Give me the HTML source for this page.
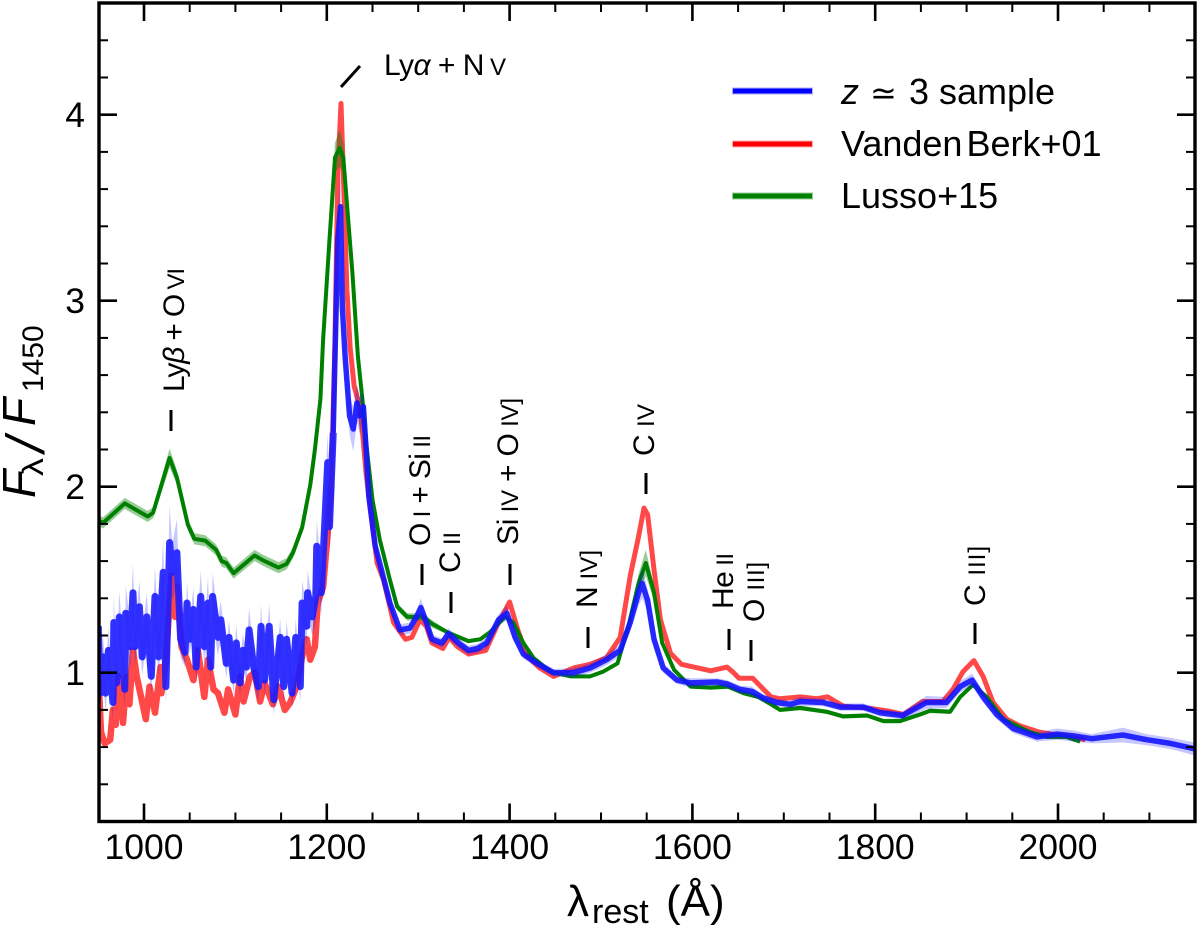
<!DOCTYPE html>
<html lang="en">
<head>
<meta charset="utf-8">
<title>Quasar composite spectra</title>
<style>
html,body{margin:0;padding:0;background:#fff;}
svg{display:block;}
text{font-family:"Liberation Sans","DejaVu Sans",sans-serif;fill:#000;}
.s{font-size:24px;}
.lab{font-size:30px;}
.gr{font-style:italic;}
</style>
</head>
<body>
<svg id="chart" xmlns="http://www.w3.org/2000/svg" width="1200" height="939" viewBox="0 0 1200 939">
<defs><clipPath id="plot-clip"><rect x="98" y="3" width="1097" height="818.5"/></clipPath></defs>
<g id="marks" clip-path="url(#plot-clip)"></g>
<g id="axes"></g>

<g stroke="#000" stroke-width="3" fill="none">
<line x1="341" y1="87" x2="360" y2="66"/>
<line x1="171" y1="410" x2="171" y2="431"/>
<line x1="422" y1="564" x2="422" y2="585"/>
<line x1="451" y1="592" x2="451" y2="613"/>
<line x1="510" y1="564" x2="510" y2="585"/>
<line x1="588" y1="627" x2="588" y2="648"/>
<line x1="646" y1="473" x2="646" y2="494"/>
<line x1="729" y1="629" x2="729" y2="650"/>
<line x1="751" y1="640" x2="751" y2="661"/>
<line x1="975" y1="623" x2="975" y2="644"/>
</g>

<g>
<text class="lab" x="384" y="75" textLength="122">Ly<tspan class="gr">α</tspan> + N<tspan class="s"> V</tspan></text>
<text class="lab" transform="translate(184,392) rotate(-90)" textLength="124">Ly<tspan class="gr">β</tspan> + O<tspan class="s"> VI</tspan></text>
<text class="lab" transform="translate(430,546) rotate(-90)" textLength="111">O<tspan class="s"> I</tspan> + Si<tspan class="s"> II</tspan></text>
<text class="lab" transform="translate(460,573) rotate(-90)" textLength="41">C<tspan class="s"> II</tspan></text>
<text class="lab" transform="translate(518,545) rotate(-90)" textLength="147">Si<tspan class="s"> IV</tspan> + O<tspan class="s"> IV]</tspan></text>
<text class="lab" transform="translate(597,608) rotate(-90)" textLength="58">N<tspan class="s"> IV]</tspan></text>
<text class="lab" transform="translate(654,456) rotate(-90)" textLength="52">C<tspan class="s"> IV</tspan></text>
<text class="lab" transform="translate(733,609) rotate(-90)" textLength="56">He<tspan class="s"> II</tspan></text>
<text class="lab" transform="translate(764,622) rotate(-90)" textLength="60">O<tspan class="s"> III]</tspan></text>
<text class="lab" transform="translate(985,606) rotate(-90)" textLength="60">C<tspan class="s"> III]</tspan></text>
</g>

<g>
<line x1="732" y1="91" x2="813" y2="91" stroke="#0000ff" stroke-opacity=".3" stroke-width="7"/>
<line x1="733" y1="91" x2="812" y2="91" stroke="#0000ff" stroke-width="5"/>
<g>
<text x="841" y="104" font-size="36" font-style="italic">z</text>
<text x="870" y="104" font-size="32" style="font-family:'DejaVu Sans',sans-serif">≃</text>
<text x="909" y="104" font-size="36">3 sample</text>
</g>
<line x1="732" y1="144" x2="813" y2="144" stroke="#ff0000" stroke-opacity=".3" stroke-width="7"/>
<line x1="733" y1="144" x2="812" y2="144" stroke="#ff0000" stroke-width="5"/>
<text x="841" y="156" font-size="36">Vanden<tspan dx="4">Berk+01</tspan></text>
<line x1="732" y1="196" x2="813" y2="196" stroke="#008000" stroke-opacity=".4" stroke-width="7"/>
<line x1="733" y1="196" x2="812" y2="196" stroke="#008000" stroke-width="5"/>
<text x="841" y="208" font-size="36">Lusso+15</text>
</g>

<g>
<text x="567" y="916" font-size="44">λ</text>
<text x="592" y="923" font-size="34">rest</text>
<text x="666" y="916" font-size="44">(Å)</text>
</g>
<g>
<text transform="translate(35,498) rotate(-90)" font-size="46" font-style="italic">F</text>
<text transform="translate(43,476) rotate(-90) scale(1.2,1)" font-size="30">λ</text>
<text transform="translate(44,452) rotate(-90)" font-size="54" font-style="italic">/</text>
<text transform="translate(35,426) rotate(-90)" font-size="46" font-style="italic">F</text>
<text transform="translate(43,392) rotate(-90)" font-size="30">1450</text>
</g>
</svg>

<script>
const blueWave = [
950,952,955,958,961,966,967,970,973,979,
980,985,988,990,995,998,1003,1008,1012,1016,
1021,1024,1028,1031,1036,1040,1045,1047,1050,1054,
1057,1062,1066,1070,1073,1075,1081,1084,1090,1093,
1098,1101,1105,1108,1112,1115,1120,1125,1128,1132,
1137,1142,1149,1153,1156,1162,1166,1171,1173,1178,
1179,1184,1188,1189,1194,1196,1201,1203,1207,
1209,1212,1215,1217,1220,1225,1229,1233,1236,1240,1243,1246,1253,1260,1269,
1280,1291,1298,1303,1309,1315,1326,1333,1344,1355,
1365,1375,1388,1397,1406,1415,1430,1448,1470,1488,
1506,1521,1532,1541,1545,1551,1558,1568,1583,1598,
1627,1638,1652,1665,1677,1692,1707,1718,1743,1762,
1787,1805,1830,1856,1878,1893,1906,1918,1933,1951,
1977,1999,2017,2037,2071,2097,2123,2150];
const blueFlux = [
1.25,.89,1.085,.89,1.12,.84,1.27,.945,1.30,.91,
1.32,1.14,1.43,1.14,1.355,1.085,1.30,.98,1.41,1.085,
1.54,.925,1.70,1.54,1.645,1.18,1.11,1.375,1.18,1.34,
1.03,1.41,1.14,1.375,1.03,1.41,1.19,1.285,1.05,1.19,
.96,1.16,.945,1.12,1.03,1.23,1.03,.925,1.25,.96,
1.25,.855,1.19,.925,1.18,.89,1.19,.925,1.375,1.25,
1.43,1.30,1.41,1.68,1.43,1.62,2.13,1.785,2.29,
2.70,3.33,3.505,2.97,2.70,2.38,2.31,2.45,2.38,2.43,2.2,1.95,1.68,1.55,1.375,
1.23,1.24,1.30,1.35,1.27,1.18,1.16,1.21,1.16,1.12,
1.13,1.16,1.285,1.32,1.19,1.10,1.05,1.00,1.00,1.025,
1.07,1.12,1.27,1.43,1.48,1.39,1.18,1.025,.96,.945,
.95,.94,.91,.90,.865,.84,.83,.845,.84,.815,
.815,.785,.77,.84,.84,.925,.96,.87,.775,.70,
.655,.67,.66,.645,.665,.64,.62,.59];
const blueErr = [
.1,.09,.12,.1,.12,.1,.14,.1,.14,.1,
.15,.12,.16,.1,.14,.1,.13,.1,.16,.12,
.18,.1,.2,.15,.18,.1,.08,.12,.08,.12,
.08,.14,.1,.14,.08,.13,.1,.1,.08,.09,
.08,.1,.07,.09,.08,.12,.08,.08,.12,.08,
.12,.08,.1,.08,.1,.08,.1,.08,.12,.1,
.12,.1,.14,.14,.12,.14,.16,.14,.16,
.14,.16,.16,.14,.12,.1,.12,.1,.1,.08,.06,.05,.04,.04,.03,
.03,.03,.03,.05,.03,.025,.025,.03,.025,.025,
.025,.03,.03,.04,.03,.025,.02,.02,.025,.025,
.03,.03,.05,.07,.08,.06,.04,.025,.02,.025,
.02,.02,.02,.025,.02,.02,.02,.025,.02,.02,
.02,.02,.02,.035,.03,.03,.035,.03,.025,.025,
.025,.03,.03,.025,.04,.03,.03,.035];

const redWave = [
950,953,957,963,966,969,972,977,981,984,
988,992,996,1002,1006,1012,1018,1019,1024,1030,
1034,1036,1041,1047,1054,1059,1066,1070,1076,1081,
1088,1092,1100,1105,1109,1116,1121,1127,1132,1141,
1147,1154,1160,1167,1174,1178,1182,1187,1190,1196,
1201,1205,1209,1212,1215.5,1218,1222,1225.5,1230,1236,
1239,1243,1255,1262,1269,1273,1286,1293,1302,1309,
1315,1327,1334,1343,1355,1374,1386,1400,1409,1419,
1433,1448,1470,1488,1506,1521,1532,1541,1547,1551,
1558,1565,1576,1588,1620,1638,1644,1651,1666,1686,
1696,1718,1736,1748,1765,1791,1813,1831,1852,1874,
1885,1896,1908,1918,1929,1944,1958,1980,2005,2030];
const redFlux = [
1.0,.68,.62,.64,.80,.72,.98,.73,.98,.83,
1.12,.98,.89,.75,.925,.785,1.03,.89,1.07,1.52,
1.30,1.46,1.14,1.07,.96,1.12,.87,1.07,.91,.89,
.785,.91,.775,.98,.845,.98,1.00,.845,.945,.83,
.925,.80,.84,.925,1.11,1.18,1.07,1.14,1.375,1.46,
1.75,2.02,2.79,3.69,4.06,3.69,3.06,2.75,2.54,2.43,
2.3,2.07,1.59,1.5,1.355,1.27,1.18,1.19,1.285,1.25,
1.16,1.13,1.19,1.14,1.10,1.12,1.25,1.38,1.23,1.09,
1.025,.98,1.025,1.045,1.08,1.19,1.52,1.73,1.885,1.85,
1.555,1.285,1.105,1.045,1.01,1.03,1.005,.97,.97,.87,
.86,.87,.86,.87,.82,.81,.795,.775,.845,.845,
.91,1.005,1.065,.98,.84,.75,.715,.68,.66,.64];

const greenWave = [
950,955,979,1004,1010,1028,1036,1048,1055,1067,
1079,1085,1090,1098,1121,1130,1147,1156,1163,1173,
1182,1187,1193,1196,1203,1209,1214,1218,1228,1234,
1239,1243,1250,1258,1269,1277,1288,1295,1305,1316,
1333,1355,1368,1379,1395,1404,1415,1426,1445,1467,
1488,1502,1518,1530,1541,1549,1558,1567,1580,1598,
1620,1639,1656,1672,1686,1696,1718,1747,1765,1791,
1809,1827,1849,1860,1882,1893,1907,1922,1940,1969,
1987,2009,2024];
const greenFlux = [
1.82,1.805,1.91,1.84,1.86,2.155,2.05,1.795,1.72,1.71,
1.66,1.60,1.59,1.535,1.63,1.605,1.565,1.585,1.645,1.78,
2.01,2.2,2.47,2.79,3.33,3.77,3.82,3.77,3.15,2.70,
2.47,2.24,1.93,1.715,1.5,1.355,1.30,1.30,1.30,1.26,
1.215,1.17,1.18,1.22,1.30,1.27,1.16,1.08,1.005,.98,
.98,1.005,1.05,1.25,1.48,1.59,1.43,1.16,1.015,.925,
.92,.925,.89,.87,.83,.80,.81,.79,.765,.77,
.74,.74,.775,.795,.79,.87,.935,.87,.75,.68,
.655,.655,.63];
const greenErr = [
.03,.03,.03,.03,.03,.05,.04,.03,.03,.03,
.03,.03,.03,.03,.03,.03,.03,.03,.03,.03,
.03,.03,.03,.04,.06,.08,.1,.08,.05,.03,
.02,.02,.02,.02,.02,.02,.02,.02,.02,.02,
.01,.01,.01,.01,.01,.01,.01,.01,.01,.01,
.01,.01,.01,.02,.05,.07,.04,.02,.01,.01,
.012,.012,.012,.012,.012,.012,.012,.012,.012,.012,
.012,.012,.012,.012,.012,.012,.012,.012,.012,.012,
.012,.012,.012];

const xMajorTicks = [1000,1200,1400,1600,1800,2000];
const xMinorTicks = [1050,1100,1150,1250,1300,1350,1450,1500,1550,1650,1700,1750,1850,1900,1950,2050,2100];
const yMajorTicks = [1,2,3,4];
const yMinorTicks = [.4,.6,.8,1.2,1.4,1.6,1.8,2.2,2.4,2.6,2.8,3.2,3.4,3.6,3.8,4.2,4.4];

const NS = 'http://www.w3.org/2000/svg';
function xScale(w){ return 144 + (w - 1000) * 0.914; }
function yScale(v){ return 821.5 - (v - 0.2) * 186; }
function pts(wave, flux, lo, hi){
  const out = [];
  wave.forEach(function(w, i){
    if (w >= lo && w <= hi) out.push(xScale(w).toFixed(1) + ',' + yScale(flux[i]).toFixed(1));
  });
  return out.join(' ');
}
function bandPts(wave, flux, err){
  const up = wave.map(function(w, i){ return xScale(w).toFixed(1) + ',' + yScale(flux[i] + err[i]).toFixed(1); });
  const lo = wave.map(function(w, i){ return xScale(w).toFixed(1) + ',' + yScale(flux[i] - err[i]).toFixed(1); }).reverse();
  return up.concat(lo).join(' ');
}
const marks = document.getElementById('marks');
const axes = document.getElementById('axes');
const NOISY_END = 1205;

const redNoisy = document.createElementNS(NS, 'polyline');


redNoisy.setAttribute('points', pts(redWave, redFlux, 0, NOISY_END));
redNoisy.setAttribute('fill', 'none');
redNoisy.setAttribute('stroke', '#ff4848');
redNoisy.setAttribute('stroke-width', '6.5');
redNoisy.setAttribute('stroke-linejoin', 'round');
marks.appendChild(redNoisy);

const redLine = document.createElementNS(NS, 'polyline');


redLine.setAttribute('points', pts(redWave, redFlux, NOISY_END, 99999));
redLine.setAttribute('fill', 'none');
redLine.setAttribute('stroke', '#ff4848');
redLine.setAttribute('stroke-width', '5');
redLine.setAttribute('stroke-linejoin', 'round');
marks.appendChild(redLine);

const greenBand = document.createElementNS(NS, 'polygon');


greenBand.setAttribute('points', bandPts(greenWave, greenFlux, greenErr));
greenBand.setAttribute('fill', '#008000');
greenBand.setAttribute('fill-opacity', '0.4');
marks.appendChild(greenBand);

const greenLine = document.createElementNS(NS, 'polyline');


greenLine.setAttribute('points', pts(greenWave, greenFlux, 0, 99999));
greenLine.setAttribute('fill', 'none');
greenLine.setAttribute('stroke', '#008000');
greenLine.setAttribute('stroke-width', '4');
greenLine.setAttribute('stroke-linejoin', 'round');
marks.appendChild(greenLine);

const blueBand = document.createElementNS(NS, 'polygon');


blueBand.setAttribute('points', bandPts(blueWave, blueFlux, blueErr));
blueBand.setAttribute('fill', '#0000ff');
blueBand.setAttribute('fill-opacity', '0.22');
marks.appendChild(blueBand);

const blueNoisy = document.createElementNS(NS, 'polyline');


blueNoisy.setAttribute('points', pts(blueWave, blueFlux, 0, NOISY_END + 2));
blueNoisy.setAttribute('fill', 'none');
blueNoisy.setAttribute('stroke', '#1c1cff');
blueNoisy.setAttribute('stroke-opacity', '0.9');
blueNoisy.setAttribute('stroke-width', '7');
blueNoisy.setAttribute('stroke-linejoin', 'round');
marks.appendChild(blueNoisy);

const blueLine = document.createElementNS(NS, 'polyline');


blueLine.setAttribute('points', pts(blueWave, blueFlux, NOISY_END + 2, 99999));
blueLine.setAttribute('fill', 'none');
blueLine.setAttribute('stroke', '#1414ff');
blueLine.setAttribute('stroke-opacity', '0.9');
blueLine.setAttribute('stroke-width', '5.5');
blueLine.setAttribute('stroke-linejoin', 'round');
marks.appendChild(blueLine);

function tick(x1, y1, x2, y2, w, name){
  const t = document.createElementNS(NS, 'line');
  
  
  t.setAttribute('x1', x1);
  t.setAttribute('y1', y1);
  t.setAttribute('x2', x2);
  t.setAttribute('y2', y2);
  t.setAttribute('stroke', '#000');
  t.setAttribute('stroke-width', w);
  axes.appendChild(t);
}
const L = 99, R = 1195, T = 3, B = 821.5;
xMajorTicks.forEach(function(w){
  const x = xScale(w);
  tick(x, B, x, B - 18, 2.6, 'x-major-tick');
  tick(x, T, x, T + 18, 2.6, 'x-major-tick-top');
  const lab = document.createElementNS(NS, 'text');
  
  
  lab.setAttribute('x', x);
  lab.setAttribute('y', 859);
  lab.setAttribute('font-size', '35.5');
  lab.setAttribute('text-anchor', 'middle');
  lab.textContent = String(w);
  axes.appendChild(lab);
});
xMinorTicks.forEach(function(w){
  const x = xScale(w);
  tick(x, B, x, B - 9, 2, 'x-minor-tick');
  tick(x, T, x, T + 9, 2, 'x-minor-tick-top');
});
yMajorTicks.forEach(function(v){
  const y = yScale(v);
  tick(L, y, L + 18, y, 2.6, 'y-major-tick');
  tick(R, y, R - 18, y, 2.6, 'y-major-tick-right');
  const lab = document.createElementNS(NS, 'text');
  
  
  lab.setAttribute('x', 85);
  lab.setAttribute('y', y + 12.5);
  lab.setAttribute('font-size', '35.5');
  lab.setAttribute('text-anchor', 'end');
  lab.textContent = String(v);
  axes.appendChild(lab);
});
yMinorTicks.forEach(function(v){
  const y = yScale(v);
  tick(L, y, L + 9, y, 2, 'y-minor-tick');
  tick(R, y, R - 9, y, 2, 'y-minor-tick-right');
});
const frame = document.createElementNS(NS, 'rect');


frame.setAttribute('x', L);
frame.setAttribute('y', T);
frame.setAttribute('width', R - L);
frame.setAttribute('height', B - T);
frame.setAttribute('fill', 'none');
frame.setAttribute('stroke', '#000');
frame.setAttribute('stroke-width', '3.4');
axes.appendChild(frame);
</script>
</body>
</html>
